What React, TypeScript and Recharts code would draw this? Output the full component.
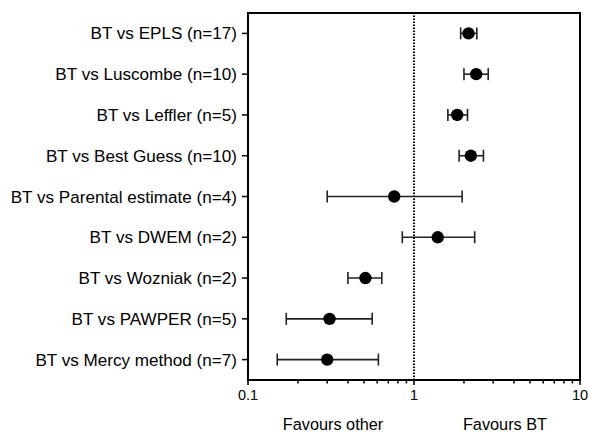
import { ErrorBar, Label, ReferenceArea, ReferenceLine, Scatter, ScatterChart, XAxis, YAxis } from "recharts";

const labels = [
  "BT vs EPLS (n=17)",
  "BT vs Luscombe (n=10)",
  "BT vs Leffler (n=5)",
  "BT vs Best Guess (n=10)",
  "BT vs Parental estimate (n=4)",
  "BT vs DWEM (n=2)",
  "BT vs Wozniak (n=2)",
  "BT vs PAWPER (n=5)",
  "BT vs Mercy method (n=7)",
];
const estimates = [2.13, 2.37, 1.82, 2.2, 0.76, 1.39, 0.51, 0.31, 0.3];
const lower = [1.91, 2.0, 1.6, 1.87, 0.3, 0.85, 0.4, 0.17, 0.15];
const upper = [2.39, 2.8, 2.1, 2.62, 1.95, 2.32, 0.64, 0.56, 0.61];

const xTicks = [
  0.1, 0.2, 0.3, 0.4, 0.5, 0.6, 0.7, 0.8, 0.9, 1, 2, 3, 4, 5, 6, 7, 8, 9, 10,
];
const majorTicks = [0.1, 1, 10];
const rowIdx = labels.map((_, i) => i);

const FONT = "'Liberation Sans', Arial, Helvetica, sans-serif";

const data = labels.map((name, i) => ({
  name,
  row: i,
  or: estimates[i],
  ci: [estimates[i] - lower[i], upper[i] - estimates[i]],
}));

function XTick(props: any) {
  const { x, y, payload } = props;
  const major = majorTicks.includes(payload.value);
  return (
    <g>
      <line x1={x} x2={x} y1={y} y2={y + (major ? 5 : 3.5)} stroke="#000" strokeWidth={1.5} />
      {major && (
        <text x={x} y={y + 20} textAnchor="middle" fontSize={14.5} fill="#000" fontFamily={FONT}>
          {payload.value}
        </text>
      )}
    </g>
  );
}

const Dot = (p: any) => <circle cx={p.cx} cy={p.cy} r={6.2} fill="#000" />;

export default function App() {
  return (
    <div style={{ position: "absolute", left: 0, top: 0, background: "#fff" }}>
      <ScatterChart width={589} height={433} margin={{ top: 13, right: 9, bottom: 0, left: 0 }}>
        <XAxis
          type="number"
          dataKey="or"
          scale="log"
          domain={[0.1, 10]}
          allowDataOverflow
          ticks={xTicks}
          interval={0}
          tick={<XTick />}
          tickLine={false}
          tickSize={0}
          tickMargin={0}
          axisLine={{ stroke: "#000", strokeWidth: 2 }}
          height={53}
        >
          <Label
            content={({ viewBox }: any) => (
              <g fontFamily={FONT} fontSize={16.3} fill="#000">
                <text x={viewBox.x + 85} y={430} textAnchor="middle">
                  Favours other
                </text>
                <text x={viewBox.x + 257} y={430} textAnchor="middle">
                  Favours BT
                </text>
              </g>
            )}
          />
        </XAxis>
        <YAxis
          type="number"
          dataKey="row"
          domain={[-0.5, labels.length - 0.5]}
          reversed
          ticks={rowIdx}
          interval={0}
          tickFormatter={(i: number) => labels[i]}
          width={248}
          tickSize={6}
          tickMargin={5}
          tick={{ fontSize: 17.1, fill: "#000", fontFamily: FONT }}
          tickLine={{ stroke: "#000", strokeWidth: 1.5 }}
          axisLine={{ stroke: "#000", strokeWidth: 2 }}
        />
        <ReferenceArea
          x1={0.1}
          x2={10}
          y1={-0.5}
          y2={labels.length - 0.5}
          fill="none"
          stroke="#000"
          strokeWidth={2}
          ifOverflow="visible"
        />
        <ReferenceLine x={1} stroke="#000" strokeWidth={2} strokeDasharray="1.5 1.5" />
        <Scatter data={data} shape={<Dot />} isAnimationActive={false}>
          <ErrorBar dataKey="ci" direction="x" width={6} stroke="#222" strokeWidth={1.6} />
        </Scatter>
      </ScatterChart>
    </div>
  );
}
